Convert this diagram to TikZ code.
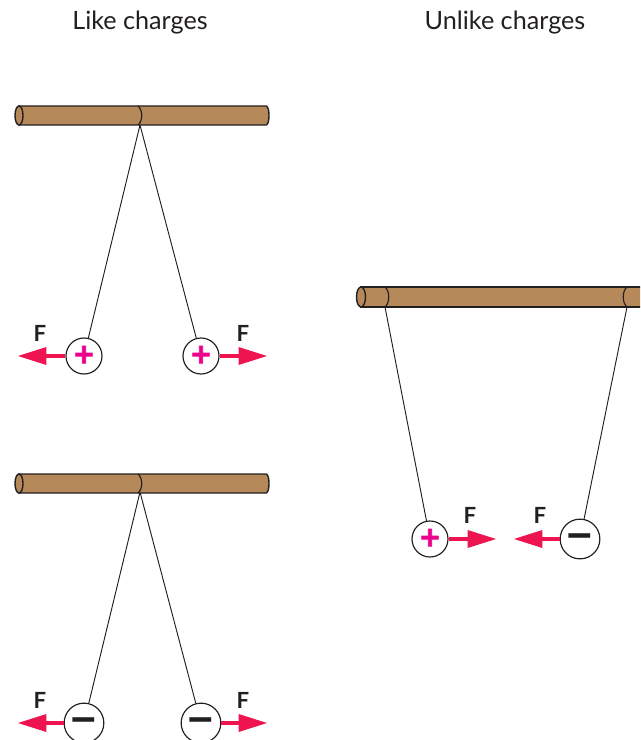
\documentclass[tikz,border=0pt]{standalone}
\usepackage{fontspec}
\setmainfont{Lato}
\newfontfamily\signfont{Lato Bold}[FakeBold=2.5]
\newfontfamily\barfont{Lato Bold}
\usetikzlibrary{arrows.meta}
\definecolor{rodbrown}{RGB}{181,137,90}
\definecolor{forcered}{RGB}{237,20,80}
\definecolor{plusmag}{RGB}{236,0,140}
\definecolor{outline}{RGB}{35,31,32}
\begin{document}
\begin{tikzpicture}[x=0.03cm, y=-0.03cm,
	rod/.style={draw=outline, fill=rodbrown, line width=1.2pt},
	string/.style={draw=outline, line width=0.8pt},
	charge/.style={circle, draw=outline, fill=white, line width=1pt, minimum size=1.08cm, inner sep=0pt},
	pluscharge/.style={charge, font=\fontsize{29}{29}\signfont, text=plusmag},
	minuscharge/.style={charge, font=\fontsize{42}{42}\barfont, text=outline, text height=23.5pt, text depth=-17.5pt},
	force/.style={draw=forcered, line width=4.2pt, -{Triangle[length=25pt, width=14pt, fill=forcered]}},
	flabel/.style={font=\fontsize{19}{19}\selectfont\bfseries, text=outline},
	title/.style={font=\fontsize{21.5}{21.5}\selectfont, text=outline}]
		\useasboundingbox (0,0) rectangle (640,740);
		\clip (0,0) rectangle (640,740);
		
		% Titles
		\node[title] (liketitle) at (140,23) {Like charges};
		\node[title] (unliketitle) at (505,23) {Unlike charges};
		
		% Pivot points under the rods
		\coordinate (pivotA) at (140,125);
		\coordinate (pivotB) at (140,492);
		\coordinate (pivotC) at (385,307);
		\coordinate (pivotD) at (627,307);
		
		% Charged balls
		\node[pluscharge] (plusA) at (84,356) {+};
		\node[pluscharge] (plusB) at (201,356) {+};
		\node[minuscharge] (minusA) at (84,723) {−};
		\node[minuscharge] (minusB) at (201,723) {−};
		\node[pluscharge] (plusC) at (430,539) {+};
		\node[minuscharge] (minusC) at (580,539) {−};
		
		% Strings
		\draw[string] (pivotA) -- (plusA);
		\draw[string] (pivotA) -- (plusB);
		\draw[string] (pivotB) -- (minusA);
		\draw[string] (pivotB) -- (minusB);
		\draw[string] (pivotC) -- (plusC);
		\draw[string] (pivotD) -- (minusC);
		
		% Rod 1: like charges, positive
		\draw[rod] (19,106) -- (266,106) .. controls (270,106) and (270,125) .. (266,125) -- (19,125) -- cycle;
		\draw[rod] (19,115.5) ellipse [x radius=4, y radius=9.5];
		\draw[outline, line width=1pt] (138,106) .. controls (143,110) and (143,121) .. (138,125);
		
		% Rod 2: like charges, negative
		\draw[rod] (19,474) -- (266,474) .. controls (270,474) and (270,493) .. (266,493) -- (19,493) -- cycle;
		\draw[rod] (19,483.5) ellipse [x radius=4, y radius=9.5];
		\draw[outline, line width=1pt] (138,474) .. controls (143,478) and (143,489) .. (138,493);
		
		% Rod 3: unlike charges (runs off the right edge)
		\draw[rod] (361,287) -- (650,287) -- (650,307) -- (361,307) -- cycle;
		\draw[rod] (361,297) ellipse [x radius=4.5, y radius=10];
		\draw[outline, line width=1pt] (385,287) .. controls (390,291) and (390,303) .. (385,307);
		\draw[outline, line width=1pt] (627,287) .. controls (622,291) and (622,303) .. (627,307);
		
		% Force arrows
		\coordinate (tipA) at (17,356);
		\coordinate (tipB) at (268,356);
		\coordinate (tipC) at (17,723);
		\coordinate (tipD) at (268,723);
		\coordinate (tipE) at (497,539);
		\coordinate (tipF) at (513,539);
		\draw[force] (plusA.west) -- (tipA);
		\draw[force] (plusB.east) -- (tipB);
		\draw[force] (minusA.west) -- (tipC);
		\draw[force] (minusB.east) -- (tipD);
		\draw[force] (plusC.east) -- (tipE);
		\draw[force] (minusC.west) -- (tipF);
		
		% Force labels
		\node[flabel] (fA) at (40,333) {F};
		\node[flabel] (fB) at (243,333) {F};
		\node[flabel] (fC) at (40,700) {F};
		\node[flabel] (fD) at (243,700) {F};
		\node[flabel] (fE) at (470,515) {F};
		\node[flabel] (fF) at (540,515) {F};
		
	\end{tikzpicture}
\end{document}
